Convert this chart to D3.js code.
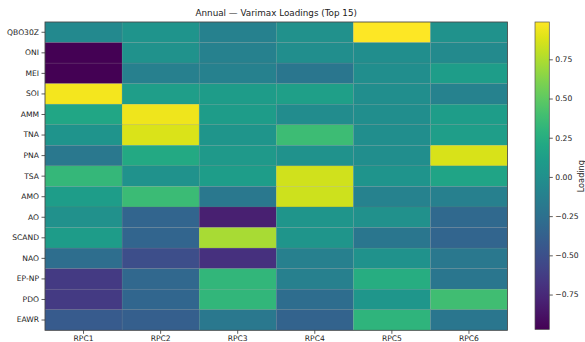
<!DOCTYPE html>
<html>
<head>
<meta charset="utf-8">
<script src="https://cdn.jsdelivr.net/npm/d3@7"></script>
<style>
  html, body { margin: 0; padding: 0; background: #fff; }
  svg { display: block; font-family: "DejaVu Sans", sans-serif; }
</style>
</head>
<body>
<svg id="chart" width="585" height="342"></svg>
<script>
// Rotated principal components (columns) and climate indices (rows)
const components = ["RPC1", "RPC2", "RPC3", "RPC4", "RPC5", "RPC6"];
const indices = ["QBO30Z", "ONI", "MEI", "SOI", "AMM", "TNA", "PNA", "TSA",
                 "AMO", "AO", "SCAND", "NAO", "EP-NP", "PDO", "EAWR"];

// Varimax loadings, one array per index, ordered RPC1..RPC6
const loadQBO30Z = [-0.05,  0.04, -0.12,  0.01,  0.988,  0.02];
const loadONI    = [-0.973, 0.03, -0.12, -0.01, -0.01, -0.04];
const loadMEI    = [-0.968,-0.13, -0.12, -0.20, -0.01,  0.11];
const loadSOI    = [ 0.95,  0.12,  0.10,  0.13, -0.01, -0.10];
const loadAMM    = [ 0.19,  0.94,  0.10, -0.03, -0.01,  0.11];
const loadTNA    = [ 0.04,  0.88,  0.05,  0.37, -0.01,  0.12];
const loadPNA    = [-0.19,  0.21,  0.08,  0.03, -0.01,  0.87];
const loadTSA    = [ 0.33,  0.02,  0.11,  0.85,  0.04,  0.17];
const loadAMO    = [ 0.11,  0.36, -0.19,  0.84, -0.10, -0.13];
const loadAO     = [ 0.01, -0.34, -0.80,  0.05,  0.01, -0.31];
const loadSCAND  = [ 0.10, -0.34,  0.73,  0.05, -0.20, -0.34];
const loadNAO    = [-0.27, -0.51, -0.70, -0.13,  0.03, -0.19];
const loadEPNP   = [-0.64, -0.32,  0.32, -0.13,  0.25, -0.20];
const loadPDO    = [-0.64, -0.33,  0.32, -0.28,  0.06,  0.39];
const loadEAWR   = [-0.42, -0.39, -0.19, -0.36,  0.30, -0.20];

const colorbarTicks = [-0.75, -0.5, -0.25, 0, 0.25, 0.5, 0.75];

const rows = [loadQBO30Z, loadONI, loadMEI, loadSOI, loadAMM, loadTNA, loadPNA,
              loadTSA, loadAMO, loadAO, loadSCAND, loadNAO, loadEPNP, loadPDO, loadEAWR];

const cells = [];
rows.forEach((vals, i) => vals.forEach((v, j) =>
  cells.push({ index: indices[i], comp: components[j], value: v })));

const svg = d3.select("#chart");
const plotL = 45, plotR = 507.5, plotT = 22, plotB = 330.3;

const x = d3.scaleBand().domain(components).range([plotL, plotR]).padding(0);
const y = d3.scaleBand().domain(indices).range([plotT, plotB]).padding(0);
const extent = d3.extent(cells, d => d.value);
const color = d3.scaleSequential(d3.interpolateViridis).domain(extent);

// Heatmap cells
svg.append("g")
  .selectAll("rect")
  .data(cells)
  .join("rect")
  .attr("x", d => x(d.comp))
  .attr("y", d => y(d.index))
  .attr("width", x.bandwidth())
  .attr("height", y.bandwidth())
  .attr("fill", d => color(d.value))
  .attr("stroke", "rgba(120,120,120,0.3)")
  .attr("stroke-width", 0.5);

// Frame
svg.append("rect")
  .attr("x", plotL).attr("y", plotT)
  .attr("width", plotR - plotL).attr("height", plotB - plotT)
  .attr("fill", "none").attr("stroke", "#444").attr("stroke-width", 0.8);

// Axes
const axisFont = 7.6;
const xAxis = svg.append("g")
  .attr("transform", `translate(0,${plotB})`)
  .call(d3.axisBottom(x).tickSize(3.5).tickPadding(2));
const yAxis = svg.append("g")
  .attr("transform", `translate(${plotL},0)`)
  .call(d3.axisLeft(y).tickSize(3.5).tickPadding(2.5));
[xAxis, yAxis].forEach(g => {
  g.select(".domain").remove();
  g.selectAll(".tick line").attr("stroke", "#333").attr("stroke-width", 0.8);
  g.selectAll(".tick text").attr("fill", "#222")
    .style("font-family", "DejaVu Sans, sans-serif").style("font-size", axisFont + "px");
});
xAxis.selectAll(".tick text").attr("dy", "0.66em");

// Title
svg.append("text")
  .attr("x", (plotL + plotR) / 2).attr("y", 16)
  .attr("text-anchor", "middle")
  .attr("fill", "#222")
  .style("font-size", "8.8px")
  .text("Annual — Varimax Loadings (Top 15)");

// Colorbar
const cbX = 535, cbW = 14.3;
const cbScale = d3.scaleLinear().domain(extent).range([plotB - 0.8, plotT]);
const defs = svg.append("defs");
const grad = defs.append("linearGradient")
  .attr("id", "viridisGrad")
  .attr("x1", "0").attr("y1", "1").attr("x2", "0").attr("y2", "0");
d3.range(0, 1.0001, 0.05).forEach(t => {
  grad.append("stop").attr("offset", t).attr("stop-color", d3.interpolateViridis(t));
});
svg.append("rect")
  .attr("x", cbX).attr("y", cbScale(extent[1]))
  .attr("width", cbW).attr("height", cbScale(extent[0]) - cbScale(extent[1]))
  .attr("fill", "url(#viridisGrad)")
  .attr("stroke", "#555").attr("stroke-width", 0.7);

const cbAxis = svg.append("g")
  .attr("transform", `translate(${cbX + cbW},0)`)
  .call(d3.axisRight(cbScale).tickValues(colorbarTicks)
    .tickFormat(d => d3.format(".2f")(d).replace("-", "\u2212"))
    .tickSize(3.5).tickPadding(2.5));
cbAxis.select(".domain").remove();
cbAxis.selectAll(".tick line").attr("stroke", "#333").attr("stroke-width", 0.8);
cbAxis.selectAll(".tick text").attr("fill", "#222")
  .style("font-family", "DejaVu Sans, sans-serif").style("font-size", axisFont + "px");

// Colorbar label along the right edge
svg.append("text")
  .attr("transform", `translate(584,${(plotT + plotB) / 2}) rotate(-90)`)
  .attr("text-anchor", "middle")
  .attr("fill", "#222")
  .style("font-size", "8.2px")
  .text("Loading");
</script>
</body>
</html>
